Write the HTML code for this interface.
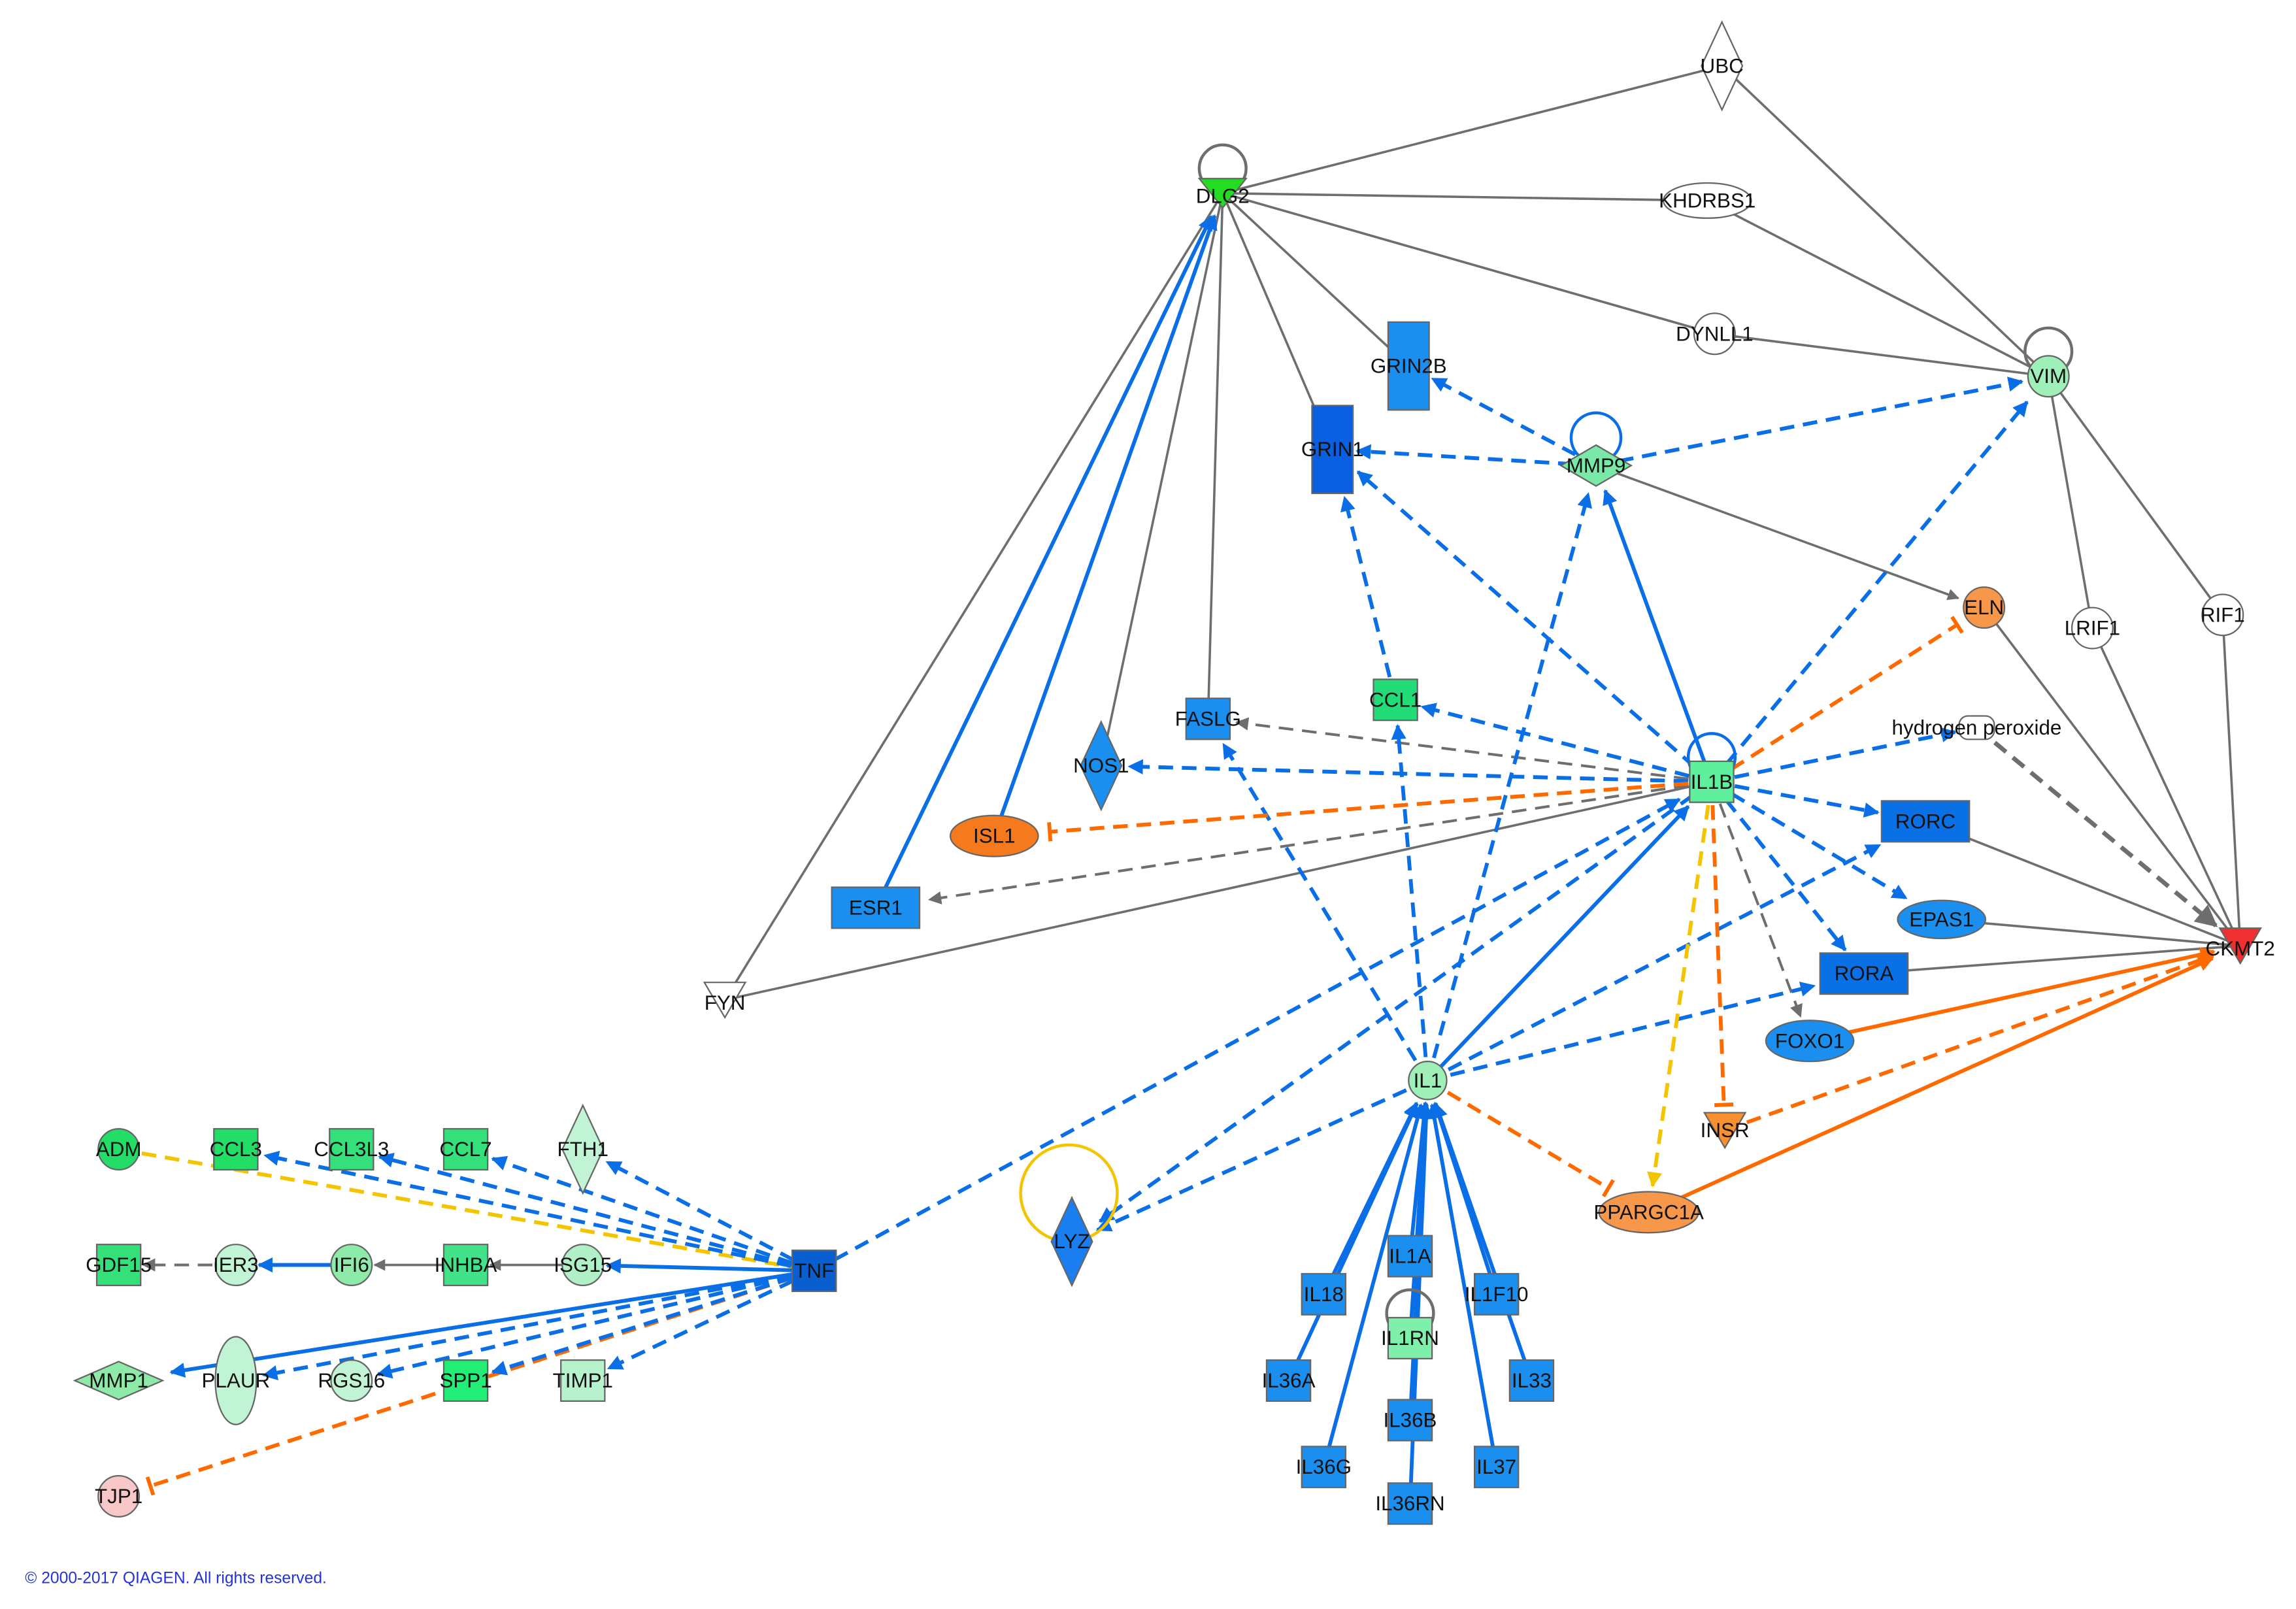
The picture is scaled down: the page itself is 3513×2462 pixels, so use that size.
<!DOCTYPE html>
<html><head><meta charset="utf-8"><style>
html,body{margin:0;padding:0;background:#fff;}
svg{display:block;}
text{font-family:"Liberation Sans",sans-serif;font-size:14px;fill:#111;text-anchor:middle;dominant-baseline:central;}
</style></head><body>
<svg id="s" width="3513" height="2462" viewBox="0 0 1568 1099" xmlns="http://www.w3.org/2000/svg">
<defs>
<marker id="ab" viewBox="0 0 10 10" refX="9" refY="5" markerWidth="4" markerHeight="4" orient="auto" markerUnits="strokeWidth"><path d="M0,0L10,5L0,10z" fill="#0a6ee6"/></marker>
<marker id="ag" viewBox="0 0 10 10" refX="9" refY="5" markerWidth="5" markerHeight="5" orient="auto" markerUnits="strokeWidth"><path d="M0,0L10,5L0,10z" fill="#6e6e6e"/></marker>
<marker id="ao" viewBox="0 0 10 10" refX="9" refY="5" markerWidth="4" markerHeight="4" orient="auto" markerUnits="strokeWidth"><path d="M0,0L10,5L0,10z" fill="#ff6a00"/></marker>
<marker id="ay" viewBox="0 0 10 10" refX="9" refY="5" markerWidth="4" markerHeight="4" orient="auto" markerUnits="strokeWidth"><path d="M0,0L10,5L0,10z" fill="#f5c400"/></marker>
<marker id="to" viewBox="0 0 4 10" refX="2" refY="5" markerWidth="2" markerHeight="5" orient="auto" markerUnits="strokeWidth"><path d="M2,0L2,10" stroke="#ff6a00" stroke-width="2"/></marker>
</defs>
<g id="edges"></g>
<g id="nodes"></g>
<text x="17" y="1078" style="font-size:11px;fill:#2233dd;text-anchor:start">© 2000-2017 QIAGEN. All rights reserved.</text>
</svg>
<script>
var N={
UBC:[1176,45,'dia','#fff',14,30],DLG2:[835,132,'tri','#22dd22',16,10],KHDRBS1:[1166,137,'ell','#fff',30,12],
DYNLL1:[1171,228,'cir','#fff',14,14],VIM:[1399,257,'cir','#9ef0b8',14,14],GRIN2B:[962,250,'rect','#1a8ff0',14,30],
GRIN1:[910,307,'rect','#0a5fe0',14,30],MMP9:[1090,318,'dia','#7ae8a6',24,14],ELN:[1355,415,'cir','#f7974a',14,14],
LRIF1:[1429,429,'cir','#fff',14,14],RIF1:[1518,420,'cir','#fff',14,14],CCL1:[953,478,'rect','#22dd77',15,14],
FASLG:[825,491,'rect','#1a8ff0',15,14],NOS1:[752,523,'dia','#1a8ff0',14,30],IL1B:[1169,534,'rect','#5ef09c',15,14],
H2O2:[1350,497,'rr','#fff',12,8],ISL1:[679,571,'ell','#f57a1e',30,14],ESR1:[598,620,'rect','#1a8ff0',30,14],
RORC:[1315,561,'rect','#0a70e6',30,14],EPAS1:[1326,628,'ell','#1a8ff0',30,13],CKMT2:[1530,646,'tri','#f03030',14,12],
RORA:[1273,665,'rect','#0a70e6',30,14],FYN:[495,683,'tri','#fff',14,12],FOXO1:[1236,711,'ell','#1a8ff0',30,14],
IL1:[975,738,'cir','#9ef0b8',13,13],INSR:[1178,772,'tri','#f7902e',14,12],PPARGC1A:[1126,828,'ell','#f7974a',34,14],
LYZ:[732,848,'dia','#1a7ef0',14,30],TNF:[556,868,'rect','#0a5fd0',15,14],
ADM:[81,785,'cir','#22dd66',14,14],CCL3:[161,785,'rect','#22dd66',15,14],CCL3L3:[240,785,'rect','#33e07a',15,14],
CCL7:[318,785,'rect','#33e07a',15,14],FTH1:[398,785,'dia','#c0f4d4',14,30],
GDF15:[81,864,'rect','#33e07a',15,14],IER3:[161,864,'cir','#c0f4d4',14,14],IFI6:[240,864,'cir','#8eeaa8',14,14],
INHBA:[318,864,'rect','#44e288',15,14],ISG15:[398,864,'cir','#b0f0c6',14,14],
MMP1:[81,943,'dia','#8eeaa8',30,13],PLAUR:[161,943,'ell','#c0f4d4',14,30],RGS16:[240,943,'cir','#c0f4d4',14,14],
SPP1:[318,943,'rect','#22ee77',15,14],TIMP1:[398,943,'rect','#b6f2cc',15,14],TJP1:[81,1022,'cir','#f8c8c8',14,14],
IL18:[904,884,'rect','#1a8ff0',15,14],IL1A:[963,858,'rect','#1a8ff0',15,14],IL1F10:[1022,884,'rect','#1a8ff0',15,14],
IL1RN:[963,914,'rect','#7ef0aa',15,14],IL36A:[880,943,'rect','#1a8ff0',15,14],IL33:[1046,943,'rect','#1a8ff0',15,14],
IL36B:[963,970,'rect','#1a8ff0',15,14],IL36G:[904,1002,'rect','#1a8ff0',15,14],IL37:[1022,1002,'rect','#1a8ff0',15,14],
IL36RN:[963,1027,'rect','#1a8ff0',15,14]};
var LBL={H2O2:'hydrogen peroxide'};
var B='#0a6ee6',G='#6e6e6e',O='#ff6a00',Y='#f5c400';
var E=[
['DLG2','UBC',G,0,'n'],['DLG2','KHDRBS1',G,0,'n'],['DLG2','DYNLL1',G,0,'n'],['DLG2','GRIN1',G,0,'n'],['DLG2','GRIN2B',G,0,'n'],
['DLG2','FASLG',G,0,'n'],['DLG2','NOS1',G,0,'n'],['DLG2','FYN',G,0,'n'],['UBC','VIM',G,0,'n'],['KHDRBS1','VIM',G,0,'n'],['DYNLL1','VIM',G,0,'n'],
['FYN','IL1B',G,0,'n'],['MMP9','ELN',G,0,'a'],['VIM','LRIF1',G,0,'n'],['VIM','RIF1',G,0,'n'],['LRIF1','CKMT2',G,0,'n'],['RIF1','CKMT2',G,0,'n'],
['ELN','CKMT2',G,0,'n'],['RORC','CKMT2',G,0,'n'],['EPAS1','CKMT2',G,0,'n'],['RORA','CKMT2',G,0,'n'],['H2O2','CKMT2',G,1,'a',3],
['IL1B','ESR1',G,1,'a',1.8],['IL1B','FASLG',G,1,'a',1.8],['IL1B','FOXO1',G,1,'a',1.8],
['ESR1','DLG2',B,0,'a'],['ISL1','DLG2',B,0,'a'],['IL1B','MMP9',B,0,'a'],['IL1','IL1B',B,0,'a'],
['MMP9','GRIN2B',B,1,'a'],['MMP9','GRIN1',B,1,'a'],['MMP9','VIM',B,1,'a'],['IL1B','GRIN1',B,1,'a'],['IL1B','VIM',B,1,'a'],['CCL1','GRIN1',B,1,'a'],
['IL1B','CCL1',B,1,'a'],['IL1B','NOS1',B,1,'a'],['IL1B','H2O2',B,1,'a'],['IL1B','RORC',B,1,'a'],['IL1B','EPAS1',B,1,'a'],['IL1B','RORA',B,1,'a'],
['IL1','MMP9',B,1,'a'],['IL1','CCL1',B,1,'a'],['IL1','FASLG',B,1,'a'],['IL1','RORC',B,1,'a'],['IL1','RORA',B,1,'a'],['IL1','LYZ',B,1,'a'],['IL1B','LYZ',B,1,'a'],
['TNF','IL1B',B,1,'a'],
['IL1B','ELN',O,1,'t'],['IL1B','ISL1',O,1,'t'],['IL1B','INSR',O,1,'t'],['IL1','PPARGC1A',O,1,'t'],['FOXO1','CKMT2',O,0,'a'],['PPARGC1A','CKMT2',O,0,'a'],
['INSR','CKMT2',O,1,'a'],['TNF','TJP1',O,1,'t'],['IL1B','PPARGC1A',Y,1,'a'],['ADM','TNF',Y,1,'n'],
['TNF','CCL3',B,1,'a'],['TNF','CCL3L3',B,1,'a'],['TNF','CCL7',B,1,'a'],['TNF','FTH1',B,1,'a'],['TNF','ISG15',B,0,'a'],
['ISG15','INHBA',G,0,'a'],['INHBA','IFI6',G,0,'a'],['IFI6','IER3',B,0,'a'],['IER3','GDF15',G,1,'a',1.8],
['TNF','MMP1',B,0,'a'],['TNF','PLAUR',B,1,'a'],['TNF','RGS16',B,1,'a'],['TNF','SPP1',B,1,'a'],['TNF','TIMP1',B,1,'a'],
['IL18','IL1',B,0,'a'],['IL1A','IL1',B,0,'a'],['IL1F10','IL1',B,0,'a'],['IL1RN','IL1',B,0,'a'],['IL36A','IL1',B,0,'a'],['IL33','IL1',B,0,'a'],
['IL36B','IL1',B,0,'a'],['IL36G','IL1',B,0,'a'],['IL37','IL1',B,0,'a'],['IL36RN','IL1',B,0,'a']];
var ns='http://www.w3.org/2000/svg';
function el(t,a,p){var e=document.createElementNS(ns,t);for(var k in a)e.setAttribute(k,a[k]);p.appendChild(e);return e;}
var eg=document.getElementById('edges'),ng=document.getElementById('nodes');
function trim(n,dx,dy){var w=n[4],h=n[5];var ax=Math.abs(dx)||1e-6,ay=Math.abs(dy)||1e-6;var t=Math.min(w/ax,h/ay);return t+0.01;}
E.forEach(function(e){var a=N[e[0]],b=N[e[1]];var dx=b[0]-a[0],dy=b[1]-a[1],L=Math.hypot(dx,dy);
var tb=e[4]=='n'?0:trim(b,dx,dy)+ (e[4]=='t'?3:1)/L;
var x2=b[0]-dx*tb,y2=b[1]-dy*tb;
var id=e[2]==B?'ab':e[2]==G?'ag':e[2]==O?'ao':'ay';
var at={x1:a[0],y1:a[1],x2:x2,y2:y2,stroke:e[2],'stroke-width':e[5]||(e[2]==G&&!e[3]?1.6:2.6)};
if(e[3])at['stroke-dasharray']='10,6';
if(e[4]=='a')at['marker-end']='url(#'+id+')';
if(e[4]=='t')at['marker-end']='url(#to)';
el('line',at,eg);});
function loop(x,y,r,c){el('circle',{cx:x,cy:y,r:r,fill:'none',stroke:c,'stroke-width':2},eg);}
loop(835,115,16,G);loop(1399,240,16,G);loop(1090,299,17,B);loop(1169,517,16,B);loop(730,815,33,Y);loop(963,897,16,G);
for(var k in N){var n=N[k],x=n[0],y=n[1],w=n[4],h=n[5],f=n[3],t=n[2],st={fill:f,stroke:'#666','stroke-width':1};
if(t=='rect'){st.x=x-w;st.y=y-h;st.width=2*w;st.height=2*h;el('rect',st,ng);}
else if(t=='rr'){st.x=x-w;st.y=y-h;st.width=2*w;st.height=2*h;st.rx=6;el('rect',st,ng);}
else if(t=='cir'){st.cx=x;st.cy=y;st.r=w;el('circle',st,ng);}
else if(t=='ell'){st.cx=x;st.cy=y;st.rx=w;st.ry=h;el('ellipse',st,ng);}
else if(t=='dia'){st.points=[x,y-h,x+w,y,x,y+h,x-w,y].join(' ');el('polygon',st,ng);}
else if(t=='tri'){st.points=[x-w,y-h,x+w,y-h,x,y+h].join(' ');el('polygon',st,ng);}
var tx=el('text',{x:x,y:y+(t=='tri'&&k=='INSR'?0:(t=='tri'?2:0))},ng);tx.textContent=LBL[k]||k;}
</script>
</body></html>
